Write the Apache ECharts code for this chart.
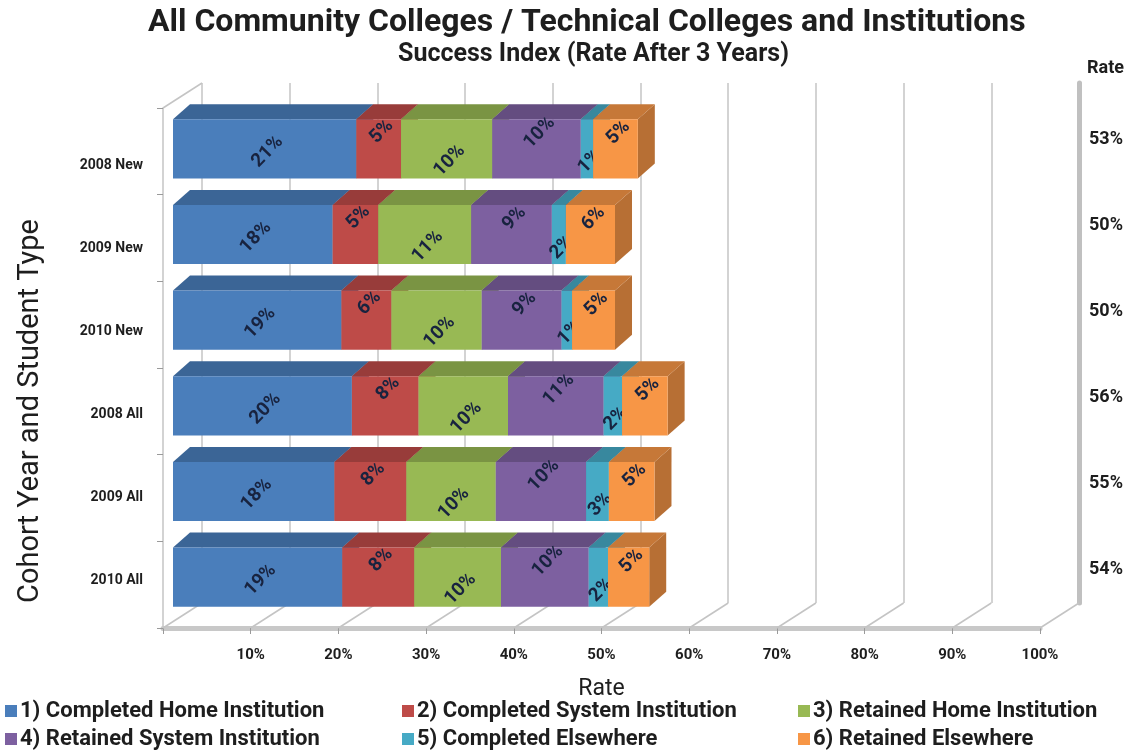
<!DOCTYPE html>
<html>
<head>
<meta charset="utf-8">
<script src="https://cdn.jsdelivr.net/npm/echarts@6/dist/echarts.min.js"></script>
<style>
html, body { margin: 0; padding: 0; background: #fff; }
#main { width: 1143px; height: 756px; }
</style>
</head>
<body>
<div id="main"></div>
<script>
// rows, top to bottom
var categories = ['2008 New', '2009 New', '2010 New', '2008 All', '2009 All', '2010 All'];
var seriesNames = [
    '1) Completed Home Institution',
    '2) Completed System Institution',
    '3) Retained Home Institution',
    '4) Retained System Institution',
    '5) Completed Elsewhere',
    '6) Retained Elsewhere'
];
// % of cohort (labels are rounded)
var completedHome      = [20.9, 18.2, 19.2, 20.4, 18.4, 19.3];
var completedSystem    = [5.1, 5.2, 5.7, 7.6, 8.2, 8.2];
var retainedHome       = [10.4, 10.6, 10.3, 10.2, 10.2, 9.9];
var retainedSystem     = [10.1, 9.2, 9.1, 10.9, 10.3, 10.0];
var completedElsewhere = [1.4, 1.6, 1.2, 2.1, 2.6, 2.2];
var retainedElsewhere  = [5.1, 5.6, 4.9, 5.2, 5.2, 4.7];
var totalLabels = ['53%', '50%', '50%', '56%', '55%', '54%'];
var rateTicks = [0, 10, 20, 30, 40, 50, 60, 70, 80, 90, 100];

var allValues = [completedHome, completedSystem, retainedHome, retainedSystem, completedElsewhere, retainedElsewhere];
var colors = ['#4a7ebb', '#be4b48', '#98b954', '#7d60a0', '#46aac5', '#f79646'];
var FONT = "Roboto, sans-serif";
var TXT = '#1e1e1e';
var DEPTH = [17, -15];      // bar depth
var WALL = [39, -25];       // floor depth
var labelDy = [3, -17, 12, -16, 13, -16];

function shade(hex, f) {
    var n = parseInt(hex.slice(1), 16);
    var r = Math.round(((n >> 16) & 255) * f);
    var g = Math.round(((n >> 8) & 255) * f);
    var b = Math.round((n & 255) * f);
    return 'rgb(' + r + ',' + g + ',' + b + ')';
}

var chart = echarts.init(document.getElementById('main'));

var series = [];

// floor depth lines + top edge of left wall
series.push({
    type: 'custom',
    xAxisIndex: 2,
    yAxisIndex: 3,
    silent: true,
    z: 1,
    data: rateTicks,
    renderItem: function (params, api) {
        var cs = params.coordSys;
        var x = api.coord([api.value(0), categories[0]])[0];
        var y = cs.y + cs.height;
        var kids = [{
            type: 'line',
            shape: { x1: x, y1: y, x2: x + WALL[0], y2: y + WALL[1] },
            style: { stroke: '#c4c4c4', lineWidth: 1.5 }
        }];
        if (api.value(0) === 0) {
            kids.push({
                type: 'line',
                shape: { x1: cs.x, y1: cs.y, x2: cs.x + WALL[0], y2: cs.y + WALL[1] },
                style: { stroke: '#c4c4c4', lineWidth: 1.5 }
            });
        }
        return { type: 'group', children: kids };
    }
});

allValues.forEach(function (vals, k) {
    var data = vals.map(function (v, i) {
        var start = 0;
        for (var j = 0; j < k; j++) start += allValues[j][i];
        return [start, start + v, i, v];
    });
    series.push({
        name: seriesNames[k],
        type: 'custom',
        xAxisIndex: 0,
        yAxisIndex: 0,
        itemStyle: { color: colors[k] },
        z: 3,
        data: data,
        renderItem: function (params, api) {
            var s = api.coord([api.value(0), api.value(2)]);
            var e = api.coord([api.value(1), api.value(2)]);
            var h = api.size([0, 1])[1] * 0.69;
            var x0 = s[0], x1 = e[0], y0 = s[1] - h / 2, y1 = s[1] + h / 2;
            var dx = DEPTH[0], dy = DEPTH[1];
            return {
                type: 'group',
                children: [{
                    type: 'polygon',
                    shape: { points: [[x1, y0], [x1 + dx, y0 + dy], [x1 + dx, y1 + dy], [x1, y1]] },
                    style: { fill: shade(colors[k], 0.74) }
                }, {
                    type: 'polygon',
                    shape: { points: [[x0, y0], [x1, y0], [x1 + dx, y0 + dy], [x0 + dx, y0 + dy]] },
                    style: { fill: shade(colors[k], 0.8) }
                }, {
                    type: 'rect',
                    shape: { x: x0, y: y0, width: x1 - x0, height: h },
                    style: { fill: colors[k] }
                }, {
                    type: 'text',
                    x: (x0 + x1) / 2 + 3,
                    y: s[1] + labelDy[k],
                    rotation: 46 * Math.PI / 180,
                    style: {
                        text: Math.round(api.value(3)) + '%',
                        fill: '#18233f',
                        font: 'bold 19px ' + FONT,
                        align: 'center',
                        verticalAlign: 'middle'
                    }
                }]
            };
        }
    });
});

var legends = seriesNames.map(function (name, k) {
    return {
        data: [name],
        left: [5, 402, 798][k % 3],
        top: k < 3 ? 700 : 728,
        padding: 0,
        icon: 'rect',
        itemWidth: 12,
        itemHeight: 12,
        itemGap: 5,
        selectedMode: false,
        textStyle: { fontFamily: FONT, fontSize: 22, fontWeight: 'bold', color: TXT, padding: [0, 0, 0, -2] }
    };
});

chart.setOption({
    animation: false,
    backgroundColor: '#fff',
    textStyle: { fontFamily: FONT },
    title: [{
        text: 'All Community Colleges / Technical Colleges and Institutions',
        left: 148,
        top: 7,
        padding: 0,
        textStyle: { fontFamily: FONT, fontSize: 32, fontWeight: 'bold', color: TXT }
    }, {
        text: 'Success Index (Rate After 3 Years)',
        left: 398,
        top: 42,
        padding: 0,
        textStyle: { fontFamily: FONT, fontSize: 25, fontWeight: 'bold', color: TXT }
    }],
    legend: legends,
    grid: [
        { left: 173, top: 106, width: 877, height: 514 },   // bars
        { left: 202, top: 83, width: 877, height: 520 },    // back wall
        { left: 163, top: 108, width: 877, height: 520 },   // floor / left wall
        { left: 163, top: 124, width: 877, height: 498 },   // row labels
        { left: 173, top: 96, width: 877, height: 517 }     // totals
    ],
    xAxis: [
        { gridIndex: 0, type: 'value', min: 0, max: 100, show: false },
        {
            gridIndex: 1, type: 'value', min: 0, max: 100, interval: 10,
            axisLine: { show: false }, axisTick: { show: false }, axisLabel: { show: false },
            splitLine: { show: true, lineStyle: { color: '#c4c4c4', width: 1.5 } }
        },
        {
            gridIndex: 2, type: 'value', min: 0, max: 100, interval: 10,
            splitLine: { show: false },
            axisLine: { show: true, lineStyle: { color: '#c8c8c8', width: 5 } },
            axisTick: { show: true, length: 6, lineStyle: { color: '#9a9a9a', width: 1 } },
            axisLabel: {
                formatter: function (v) { return v === 0 ? '' : v + '%'; },
                fontFamily: FONT, fontSize: 15, fontWeight: 'bold', color: TXT, margin: 20
            },
            name: 'Rate', nameLocation: 'middle', nameGap: 50,
            nameTextStyle: { fontFamily: FONT, fontSize: 23, color: TXT }
        },
        { gridIndex: 3, type: 'value', min: 0, max: 100, show: false },
        { gridIndex: 4, type: 'value', min: 0, max: 100, show: false }
    ],
    yAxis: [
        { gridIndex: 0, type: 'category', data: categories, inverse: true, show: false },
        {
            gridIndex: 4, type: 'category', data: totalLabels, inverse: true, position: 'right',
            axisLine: { show: false }, axisTick: { show: false },
            axisLabel: {
                margin: 39, align: 'left',
                fontFamily: FONT, fontSize: 18, fontWeight: 'bold', color: TXT
            }
        },
        {
            gridIndex: 1, type: 'value', position: 'right', min: 0, max: 1,
            axisLine: { show: true, onZero: false, lineStyle: { color: '#c0c0c0', width: 5 } },
            axisTick: { show: false }, axisLabel: { show: false }, splitLine: { show: false },
            name: 'Rate', nameLocation: 'end', nameGap: 6,
            nameTextStyle: { fontFamily: FONT, fontSize: 18, fontWeight: 'bold', color: TXT, align: 'left', padding: [0, 0, 0, 8] }
        },
        {
            gridIndex: 2, type: 'category', data: categories, inverse: true,
            axisLine: { show: true, lineStyle: { color: '#c4c4c4', width: 1.5 } },
            axisTick: { show: true, length: 6, lineStyle: { color: '#9a9a9a' } },
            axisLabel: { show: false },
            name: 'Cohort Year and Student Type', nameLocation: 'middle', nameGap: 118, nameRotate: 90,
            nameTextStyle: { fontFamily: FONT, fontSize: 29, color: TXT, padding: [0, 86, 0, 0] }
        },
        {
            gridIndex: 3, type: 'category', data: categories, inverse: true,
            axisLine: { show: false }, axisTick: { show: false },
            axisLabel: { margin: 20, fontFamily: FONT, fontSize: 14, fontWeight: 'bold', color: TXT }
        }
    ],
    series: series
});
</script>
</body>
</html>
